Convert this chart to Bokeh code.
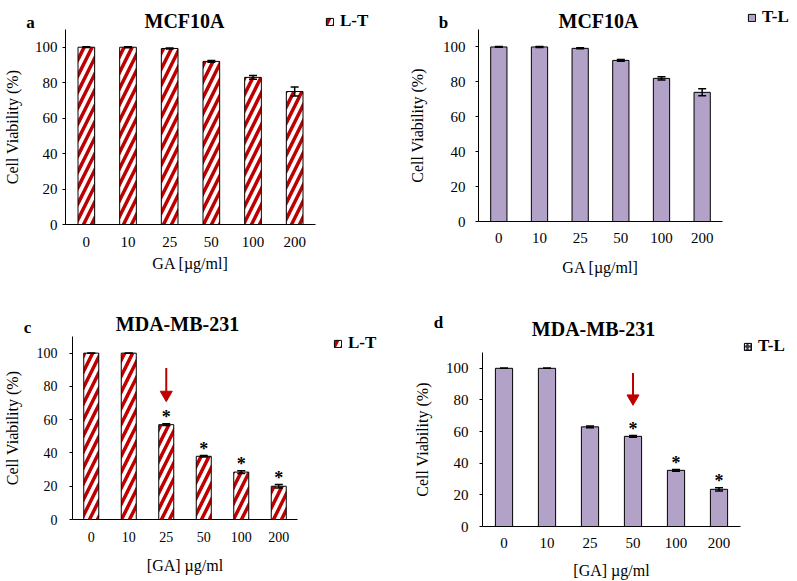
from bokeh.plotting import figure
from bokeh.models import (ColumnDataSource, Whisker, TeeHead, Legend, LegendItem,
                          FixedTicker, Range1d, FactorRange)
from bokeh.layouts import column, row
from bokeh.core.properties import value
from bokeh.embed import file_html
from bokeh.resources import INLINE

# ---------------- data ----------------
doses = ["0", "10", "25", "50", "100", "200"]
yticks = [0, 20, 40, 60, 80, 100]

mcf_lt = [100, 100, 99.3, 92, 83, 75]
mcf_lt_err = [0.2, 0.3, 0.3, 0.5, 1.0, 2.5]

mcf_tl = [100, 100, 99.2, 92.3, 82, 74]
mcf_tl_err = [0.2, 0.3, 0.3, 0.5, 1.0, 2.0]

mda_lt = [100, 100, 57, 38, 28.5, 20]
mda_lt_err = [0, 0, 0.5, 0.5, 0.8, 1.0]

mda_tl = [100, 100, 63, 57, 35.5, 23.5]
mda_tl_err = [0, 0, 0.5, 0.5, 0.5, 1.0]

mda_lt_sig = ["25", "50", "100", "200"]
mda_tl_sig = ["50", "100", "200"]

# arrows: (dose, shaft start value, head value)
mda_lt_arrow = ("25", 91, 75)
mda_tl_arrow = ("50", 97, 81)

FONT = "Liberation Serif"
RED = "#c00000"
PURPLE = "#b3a2c7"

hatch_style = dict(fill_color="white", hatch_pattern="right_diagonal_line",
                   hatch_color=RED, hatch_scale=16, hatch_weight=3.5)
solid_style = dict(fill_color=PURPLE)
dark_style = dict(fill_color="#3a3a48", hatch_pattern="dot",
                  hatch_color="white", hatch_scale=4, hatch_weight=1)


def make_legend(label, renderer, lx, ly):
    return Legend(items=[LegendItem(label=label, renderers=[renderer])],
                  location=(lx, ly), padding=0, margin=0,
                  border_line_color=None, background_fill_alpha=0,
                  inactive_fill_alpha=0,
                  glyph_width=9, glyph_height=9, label_standoff=6,
                  label_height=20, spacing=0, label_text_font=FONT,
                  label_text_font_style="bold", label_text_font_size="17px",
                  label_text_color="black")


def make_strip(width, height, letter=None, letter_pos=None, title=None,
               title_pos=None, legend=None):
    s = figure(width=width, height=height, x_range=Range1d(0, width),
               y_range=Range1d(height, 0), output_backend="svg",
               toolbar_location=None, title=None, x_axis_location=None,
               y_axis_location=None, min_border=0, frame_align=False)
    s.min_border_left = s.min_border_right = 0
    s.min_border_top = s.min_border_bottom = 0
    s.outline_line_color = None
    s.xgrid.grid_line_color = None
    s.ygrid.grid_line_color = None
    if letter:
        s.text(x=[letter_pos[0]], y=[letter_pos[1]], text=[letter],
               text_font=value(FONT), text_font_style="bold", text_font_size="17px",
               text_align="center", text_baseline="alphabetic", text_color="black")
    if title:
        s.text(x=[title_pos[0]], y=[title_pos[1]], text=[title],
               text_font=value(FONT), text_font_style="bold", text_font_size="20px",
               text_align="center", text_baseline="alphabetic", text_color="black")
    if legend is not None:
        lab, style, gx, cy = legend
        # hidden swatch renderer: only its style is shown, in the legend
        dummy = ColumnDataSource(dict(x=[-100], top=[1]))
        r = s.vbar(x="x", top="top", width=1, source=dummy,
                   line_color="black", line_width=1, **style)
        r.visible = False
        s.add_layout(make_legend(lab, r, gx, height - cy - 10))
    return s


def make_panel(g, vals, errs, style, xlabel, sig=None, arrow=None):
    fig_w, fig_h = g["size"]
    bl, br, bb = g["border"]
    p = figure(x_range=FactorRange(factors=doses), y_range=Range1d(0, 110),
               width=fig_w, height=fig_h, output_backend="svg",
               toolbar_location=None, title=None, frame_align=False,
               min_border_left=bl, min_border_right=br,
               min_border_top=0, min_border_bottom=bb)
    p.outline_line_color = None
    p.xgrid.grid_line_color = None
    p.ygrid.grid_line_color = None

    src = ColumnDataSource(dict(x=doses, top=vals,
                                upper=[v + e for v, e in zip(vals, errs)],
                                lower=[v - e for v, e in zip(vals, errs)]))
    p.vbar(x="x", top="top", width=0.4, source=src,
           line_color="black", line_width=1, **style)

    p.add_layout(Whisker(source=src, base="x", upper="upper", lower="lower",
                         line_color="black", line_width=1.5, level="overlay",
                         upper_head=TeeHead(size=8, line_color="black", line_width=1.5),
                         lower_head=TeeHead(size=8, line_color="black", line_width=1.5)))

    if sig:
        lookup = {d: (v + e) for d, v, e in zip(doses, vals, errs)}
        p.text(x=sig, y=[lookup[d] + 4 for d in sig], text=["*"] * len(sig),
               text_font=value(FONT), text_font_style="bold",
               text_font_size="18px", text_align="center",
               text_baseline="middle", text_color="black")
    if arrow:
        d, y0, y1 = arrow
        p.segment(x0=[d], y0=[y0], x1=[d], y1=[y1], line_color=RED, line_width=2)
        p.scatter(x=[d], y=[y1], marker="inverted_triangle", size=12,
                  fill_color=RED, line_color=RED)

    for ax in (p.xaxis, p.yaxis):
        ax.axis_line_color = "black"
        ax.axis_line_width = 1
        ax.major_label_text_font = FONT
        ax.major_label_text_color = "black"
        ax.major_label_text_font_size = g["tick_fs"]
        ax.axis_label_text_font = FONT
        ax.axis_label_text_font_style = "normal"
        ax.axis_label_text_color = "black"
        ax.axis_label_text_font_size = "16px"
        ax.minor_tick_line_color = None
    p.xaxis.major_tick_line_color = None
    p.xaxis.axis_label = xlabel
    p.xaxis.major_label_standoff = g["x_std"][0]
    p.xaxis.axis_label_standoff = g["x_std"][1]
    p.yaxis.ticker = FixedTicker(ticks=yticks)
    p.yaxis.major_tick_out = 3
    p.yaxis.major_tick_in = 0
    p.yaxis.major_tick_line_color = "black"
    p.yaxis.axis_label = "Cell Viability (%)"
    p.yaxis.major_label_standoff = g["y_std"][0]
    p.yaxis.axis_label_standoff = g["y_std"][1]
    return p


# geometry (page pixels)
geo_a = dict(size=(398, 262), border=(60, 83, 67), tick_fs="15px",
             x_std=(6, 5), y_std=(5, 11))
geo_b = dict(size=(399, 262), border=(80, 75, 70), tick_fs="15px",
             x_std=(5, 13), y_std=(10, 14))
geo_c = dict(size=(333, 245), border=(68, 36, 62), tick_fs="14px",
             x_std=(6, 12), y_std=(12, 13))
geo_d = dict(size=(399, 229), border=(84, 57, 55), tick_fs="15px",
             x_std=(5, 11), y_std=(11, 12))

sa = make_strip(398, 29, "a", (30, 21.5), "MCF10A", (184, 20.5),
                legend=("L-T", hatch_style, 325, 21))
sb = make_strip(399, 29, "b", (45, 21.5), "MCF10A", (200, 20.5),
                legend=("T-L", solid_style, 349, 17))
sc = make_strip(398, 45, "c", (27, 36), "MDA-MB-231", (177, 32.5))
lc = make_strip(65, 245, legend=("L-T", hatch_style, 0, 7))
sd = make_strip(399, 61, "d", (40, 31), "MDA-MB-231", (195, 37.5),
                legend=("T-L", dark_style, 345, 55))

pa = make_panel(geo_a, mcf_lt, mcf_lt_err, hatch_style, "GA [\u00b5g/ml]")
pb = make_panel(geo_b, mcf_tl, mcf_tl_err, solid_style, "GA [\u00b5g/ml]")
pc = make_panel(geo_c, mda_lt, mda_lt_err, hatch_style, "[GA] \u00b5g/ml",
                sig=mda_lt_sig, arrow=mda_lt_arrow)
pd_ = make_panel(geo_d, mda_tl, mda_tl_err, solid_style, "[GA] \u00b5g/ml",
                 sig=mda_tl_sig, arrow=mda_tl_arrow)

layout = column(row(column(sa, pa), column(sb, pb)),
                row(column(sc, row(pc, lc)), column(sd, pd_)))
open("out.html", "w").write(file_html(layout, INLINE))
